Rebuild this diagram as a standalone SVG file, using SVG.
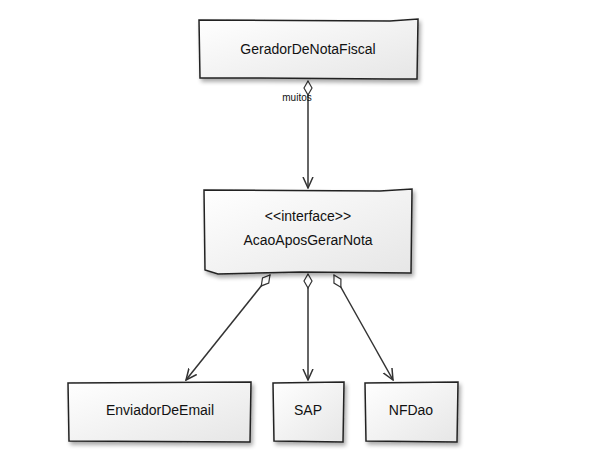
<svg xmlns="http://www.w3.org/2000/svg" width="592" height="452" viewBox="0 0 592 452">
<defs>
<linearGradient id="g" x1="0" y1="0" x2="1" y2="1">
<stop offset="0" stop-color="#ffffff"/>
<stop offset="1" stop-color="#e6e6e6"/>
</linearGradient>
<filter id="sh" x="-10%" y="-10%" width="130%" height="140%">
<feGaussianBlur in="SourceAlpha" stdDeviation="2"/>
<feOffset dx="2" dy="3"/>
<feComponentTransfer><feFuncA type="linear" slope="0.35"/></feComponentTransfer>
<feMerge><feMergeNode/><feMergeNode in="SourceGraphic"/></feMerge>
</filter>
<marker id="arr" viewBox="0 0 12 12" refX="11" refY="6" markerWidth="12" markerHeight="12" orient="auto" markerUnits="userSpaceOnUse">
<path d="M0,1 L11,6 L0,11" fill="none" stroke="#333" stroke-width="1.5"/>
</marker>
<marker id="dia" viewBox="0 0 16 10" refX="1" refY="5" markerWidth="16" markerHeight="10" orient="auto" markerUnits="userSpaceOnUse">
<path d="M1,5 L8,1 L15,5 L8,9 Z" fill="#fff" stroke="#333" stroke-width="1.2"/>
</marker>
<style>
.box{fill:url(#g);stroke:#222;stroke-width:1.5;filter:url(#sh)}
.t{font-family:"Liberation Sans",Arial,sans-serif;font-size:14px;fill:#111;text-anchor:middle}
.c{fill:none;stroke:#333;stroke-width:1.5}
</style>
</defs>
<g id="connectors">
<path class="c" d="M308,81 L308,188" marker-start="url(#dia)" marker-end="url(#arr)"/>
<text class="t" x="297" y="101" style="font-size:10px">muitos</text>
<path class="c" d="M270,275 L186,380" marker-start="url(#dia)" marker-end="url(#arr)"/>
<path class="c" d="M308,274 L308,380" marker-start="url(#dia)" marker-end="url(#arr)"/>
<path class="c" d="M334,275 L393,380" marker-start="url(#dia)" marker-end="url(#arr)"/>
</g>
<g id="GeradorDeNotaFiscal">
<path class="box" d="M199,20 L390,21 L418,19 L417,79 L390,79 L260,78 L200,78 Z"/>
<text class="t" x="308" y="54">GeradorDeNotaFiscal</text>
</g>
<g id="AcaoAposGerarNota">
<path class="box" d="M204,190 L380,191 L412,189 L411,273 L300,272 L218,274 L205,270 Z"/>
<text class="t" x="308" y="221">&lt;&lt;interface&gt;&gt;</text>
<text class="t" x="308" y="245">AcaoAposGerarNota</text>
</g>
<g id="EnviadorDeEmail">
<path class="box" d="M68,383 L251,382 L250,442 L69,441 Z"/>
<text class="t" x="160" y="415">EnviadorDeEmail</text>
</g>
<g id="SAP">
<path class="box" d="M273,383 L344,382 L343,442 L274,441 Z"/>
<text class="t" x="308" y="415">SAP</text>
</g>
<g id="NFDao">
<path class="box" d="M365,383 L458,382 L457,442 L366,441 Z"/>
<text class="t" x="411" y="415">NFDao</text>
</g>
</svg>
